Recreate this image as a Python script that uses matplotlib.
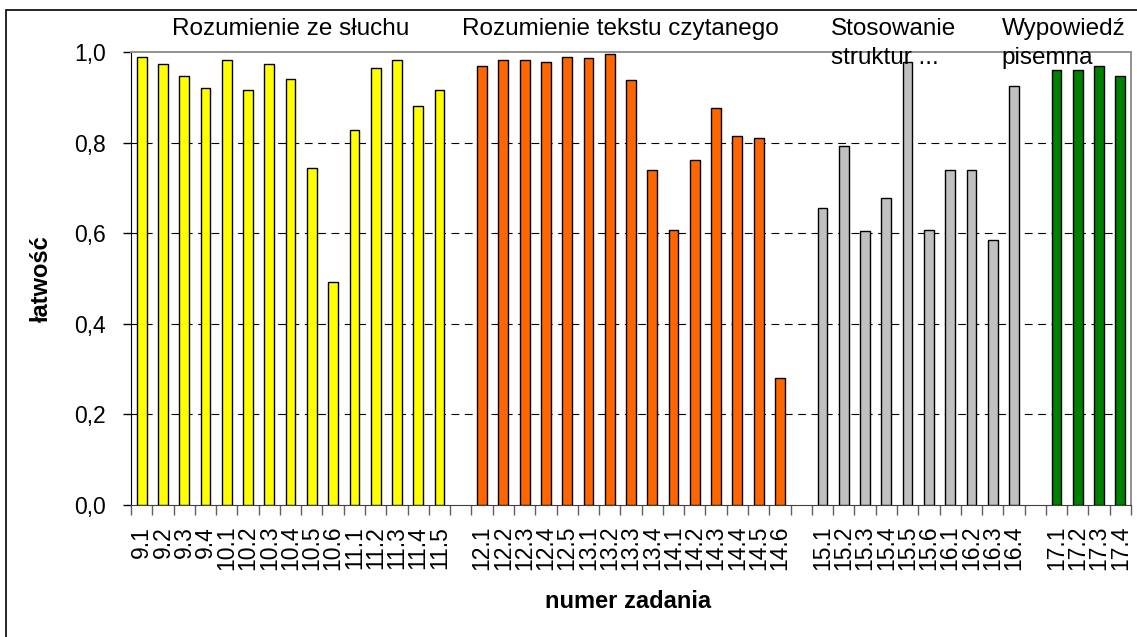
import numpy as np
import matplotlib.pyplot as plt
from matplotlib.patches import Rectangle
from matplotlib.ticker import FixedLocator, FuncFormatter

plt.rcParams['font.family'] = ['Liberation Sans', 'DejaVu Sans']

# task numbers and facility index, one list per part of the exam
sluch_labels = ['9.1', '9.2', '9.3', '9.4', '10.1', '10.2', '10.3', '10.4', '10.5',
                '10.6', '11.1', '11.2', '11.3', '11.4', '11.5']
sluch_values = [0.990, 0.973, 0.947, 0.920, 0.982, 0.916, 0.973, 0.941, 0.744,
                0.493, 0.828, 0.964, 0.982, 0.880, 0.916]

tekst_labels = ['12.1', '12.2', '12.3', '12.4', '12.5', '13.1', '13.2', '13.3', '13.4',
                '14.1', '14.2', '14.3', '14.4', '14.5', '14.6']
tekst_values = [0.969, 0.982, 0.982, 0.977, 0.990, 0.986, 0.995, 0.938, 0.739,
                0.607, 0.762, 0.876, 0.814, 0.811, 0.281]

struktury_labels = ['15.1', '15.2', '15.3', '15.4', '15.5', '15.6', '16.1', '16.2',
                    '16.3', '16.4']
struktury_values = [0.656, 0.793, 0.604, 0.678, 0.977, 0.607, 0.739, 0.739, 0.586, 0.924]

pisemna_labels = ['17.1', '17.2', '17.3', '17.4']
pisemna_values = [0.960, 0.960, 0.968, 0.947]

groups = [
    ('Rozumienie ze słuchu', sluch_labels, sluch_values, '#FFFF00'),
    ('Rozumienie tekstu czytanego', tekst_labels, tekst_values, '#FF6600'),
    ('Stosowanie\nstruktur ...', struktury_labels, struktury_values, '#C0C0C0'),
    ('Wypowiedź\npisemna', pisemna_labels, pisemna_values, '#008000'),
]
title_x = [1.43, 15.05, 32.4, 40.43]

fig = plt.figure(figsize=(11.37, 6.37), dpi=100)
ax = fig.add_axes([131 / 1137, 1 - 505 / 637, 1000 / 1137, 453 / 637])

fs = 17.5
tick_fs = 16.5

# one empty slot between the parts
labels = []
pos = 0
for (title, labs, vals, col), tx in zip(groups, title_x):
    x = np.arange(pos, pos + len(labs))
    ax.bar(x, vals, width=0.46, color=col, edgecolor='black', linewidth=1.0, zorder=3)
    labels += list(zip(x, labs))
    ax.text(tx, 1.0745, title, fontsize=fs, ha='left', va='top',
            linespacing=1.42, zorder=5, clip_on=False)
    pos += len(labs) + 1
nslots = pos - 1

ax.set_xlim(-0.5, nslots - 0.5)
ax.set_ylim(0, 1.0)

ax.set_yticks(np.arange(0, 1.01, 0.2))
ax.yaxis.set_major_formatter(FuncFormatter(lambda v, p: ('%.1f' % v).replace('.', ',')))
ax.tick_params(axis='y', direction='out', length=6, width=1, pad=12, labelsize=tick_fs)

ax.xaxis.set_major_locator(FixedLocator(np.arange(-0.5, nslots, 1.0)))
ax.set_xticklabels([])
ax.set_xticks([p for p, _ in labels], minor=True)
ax.set_xticklabels([l for _, l in labels], minor=True, rotation=90, fontsize=tick_fs)
ax.tick_params(axis='x', which='major', direction='out', length=7, width=1, color='#606060')
ax.tick_params(axis='x', which='minor', length=0, pad=15)

for gy in [0.2, 0.4, 0.6, 0.8]:
    ax.axhline(gy, color='black', linewidth=0.8, linestyle=(0, (7, 5)), zorder=1)

for s in ['top', 'right']:
    ax.spines[s].set_color('#909090')
    ax.spines[s].set_linewidth(1.4)
ax.spines['left'].set_color('black')
ax.spines['bottom'].set_color('#404040')

ax.set_ylabel('łatwość', fontsize=17, fontweight='bold')
ax.set_xlabel('numer zadania', fontsize=17, fontweight='bold')
ax.yaxis.set_label_coords(-0.078, 0.5)
ax.xaxis.set_label_coords(0.497, -0.188)

# frame around the whole chart
fig.patches.append(Rectangle((6 / 1137, -0.1), 1.2, 0.1 + 1 - 10 / 637, fill=False,
                             edgecolor='black', linewidth=1.2, transform=fig.transFigure))

plt.savefig('out.png', dpi=100)
